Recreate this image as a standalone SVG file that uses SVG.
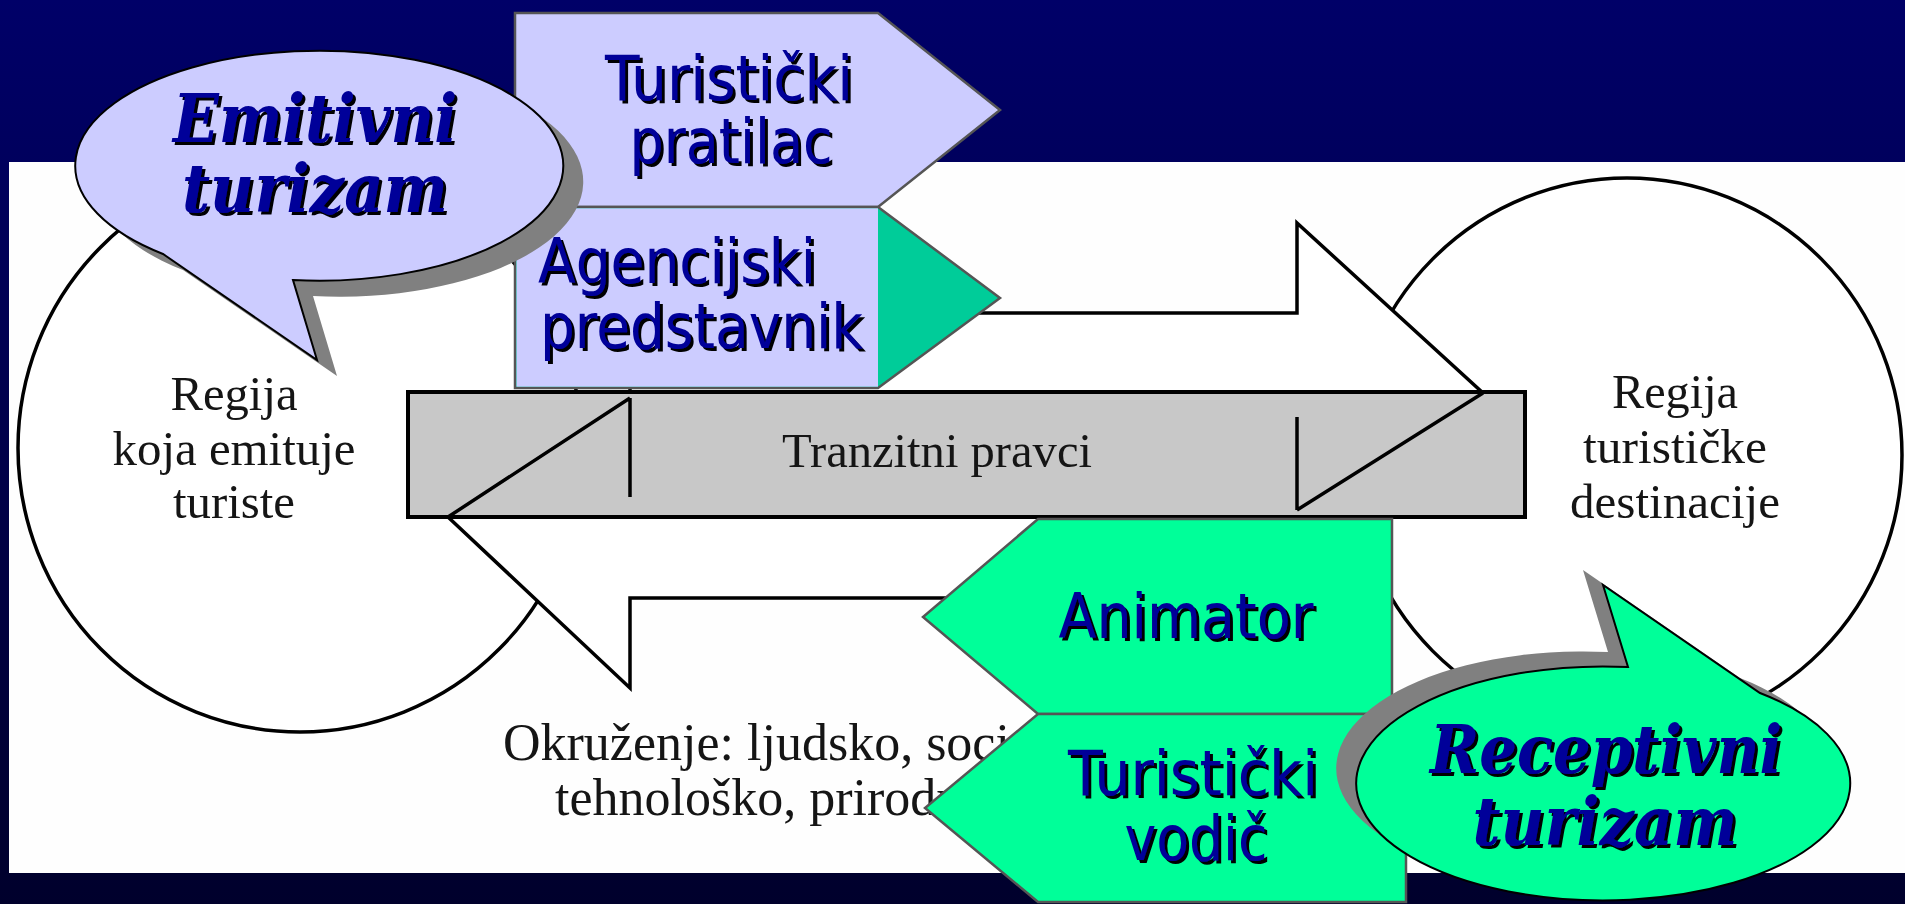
<svg xmlns="http://www.w3.org/2000/svg" width="1905" height="904" viewBox="0 0 1905 904">
<defs>
<linearGradient id="bg" x1="0" y1="0" x2="0" y2="1">
<stop offset="0" stop-color="#000068"/>
<stop offset="1" stop-color="#00002c"/>
</linearGradient>
<filter id="ts" x="-5%" y="-10%" width="115%" height="135%">
<feOffset in="SourceAlpha" dx="3" dy="3" result="o"/>
<feMerge><feMergeNode in="o"/><feMergeNode in="SourceGraphic"/></feMerge>
</filter>
<style>
.ol{fill:none;stroke:#000;stroke-width:3.5;stroke-linejoin:miter}
.circ{fill:#fff;stroke:#000;stroke-width:3.5}
.arrow{fill:#fff;stroke:#000;stroke-width:3.5;stroke-linejoin:miter}
.bar{fill:#c8c8c8;stroke:#000;stroke-width:4}
.tm{font-family:"Liberation Serif","Times New Roman",serif;fill:#151515;font-size:48px}
.env{font-size:52px}
.box{stroke:#555;stroke-width:2.5}
.lav{fill:#ccccff}
.grn{fill:#00ff99}
.teal{fill:#00cc99}
.sans{font-family:"DejaVu Sans",Verdana,sans-serif;font-size:63px;text-anchor:middle;fill:#000099;filter:url(#ts)}
.ser{font-family:"DejaVu Serif","Liberation Serif",serif;font-size:67px;font-weight:bold;font-style:italic;text-anchor:middle;fill:#000099;filter:url(#ts)}
.bub{stroke:#000;stroke-width:2}
.bsh{fill:#808080}
</style>
</defs>
<rect x="0" y="0" width="1905" height="904" fill="url(#bg)"/>
<rect id="picture" x="9" y="162" width="1896" height="711" fill="#fefefe"/>

<g id="region-left">
<ellipse class="circ" cx="300" cy="448" rx="282" ry="284"/>
<text class="tm" text-anchor="middle"><tspan x="234" y="410" textLength="127" lengthAdjust="spacingAndGlyphs">Regija</tspan><tspan x="234" y="465" textLength="243" lengthAdjust="spacingAndGlyphs">koja emituje</tspan><tspan x="234" y="518" textLength="122" lengthAdjust="spacingAndGlyphs">turiste</tspan></text>
</g>
<g id="region-right">
<ellipse class="circ" cx="1627" cy="455" rx="275" ry="277"/>
<text class="tm" text-anchor="middle"><tspan x="1675" y="408" textLength="126" lengthAdjust="spacingAndGlyphs">Regija</tspan><tspan x="1675" y="463" textLength="184" lengthAdjust="spacingAndGlyphs">turističke</tspan><tspan x="1675" y="518" textLength="210" lengthAdjust="spacingAndGlyphs">destinacije</tspan></text>
</g>

<g id="connectors">
<path class="arrow" d="M630,313 L1297,313 L1297,223 L1483,393 L1297,510 L1297,417 L630,417 Z"/>
<path class="arrow" d="M448,517 L630,398 L630,497 L1300,497 L1300,598 L630,598 L630,688 Z"/>
</g>

<g id="transit">
<rect class="bar" x="408" y="392" width="1117" height="125"/>
<path class="ol" d="M448,517 L630,398 M630,398 L630,497"/>
<path class="ol" d="M1483,393 L1297,510 M1297,417 L1297,510"/>
<text class="tm" x="782" y="467" textLength="310" lengthAdjust="spacingAndGlyphs">Tranzitni pravci</text>
</g>

<g id="environment">
<text class="tm env"><tspan x="503" y="760">Okruženje: ljudsko, socio</tspan><tspan x="555" y="815">tehnološko, prirodn</tspan></text>
</g>

<g id="turisticki-pratilac">
<path class="box lav" d="M515,13 L878,13 L1000,110 L878,207 L515,207 Z"/>
<text class="sans"><tspan x="729" y="100" textLength="248" lengthAdjust="spacingAndGlyphs">Turistički</tspan><tspan x="731" y="163" textLength="203" lengthAdjust="spacingAndGlyphs">pratilac</tspan></text>
</g>

<g id="agencijski-predstavnik">
<path class="box teal" d="M515,207 L878,207 L1000,298 L878,388 L515,388 Z"/>
<rect class="lav" x="516.5" y="208.3" width="361.5" height="178.4"/>
<text class="sans" style="text-anchor:start"><tspan x="538" y="283" textLength="278" lengthAdjust="spacingAndGlyphs">Agencijski</tspan><tspan x="540" y="348" textLength="323" lengthAdjust="spacingAndGlyphs">predstavnik</tspan></text>
</g>

<g id="emitivni-turizam">
<path class="bsh" transform="translate(20,16)" d="M293,280 A244,115 0 1 0 163,254 L317,360 Z"/>
<path class="bub lav" d="M293,280 A244,115 0 1 0 163,254 L317,360 Z"/>
<text class="ser"><tspan x="315" y="142" textLength="284" lengthAdjust="spacingAndGlyphs">Emitivni</tspan><tspan x="315" y="212" textLength="266" lengthAdjust="spacingAndGlyphs">turizam</tspan></text>
</g>

<g id="animator">
<path class="box grn" d="M1038,519 L1392,519 L1392,714 L1038,714 L923,617 Z"/>
<text class="sans" x="1186" y="638" textLength="255" lengthAdjust="spacingAndGlyphs">Animator</text>
</g>

<g id="turisticki-vodic">
<path class="box grn" d="M1038,714 L1406,714 L1406,902 L1038,902 L925,808 Z"/>
<text class="sans"><tspan x="1193" y="795" textLength="250" lengthAdjust="spacingAndGlyphs">Turistički</tspan><tspan x="1196" y="860" textLength="143" lengthAdjust="spacingAndGlyphs">vodič</tspan></text>
</g>

<g id="receptivni-turizam">
<path class="bsh" transform="translate(-20,-15)" d="M1760,693 A247,117 0 1 1 1628,667 L1603,585 Z"/>
<path class="bub grn" d="M1760,693 A247,117 0 1 1 1628,667 L1603,585 Z"/>
<text class="ser"><tspan x="1606" y="773" textLength="352" lengthAdjust="spacingAndGlyphs">Receptivni</tspan><tspan x="1605" y="845" textLength="265" lengthAdjust="spacingAndGlyphs">turizam</tspan></text>
</g>
</svg>
